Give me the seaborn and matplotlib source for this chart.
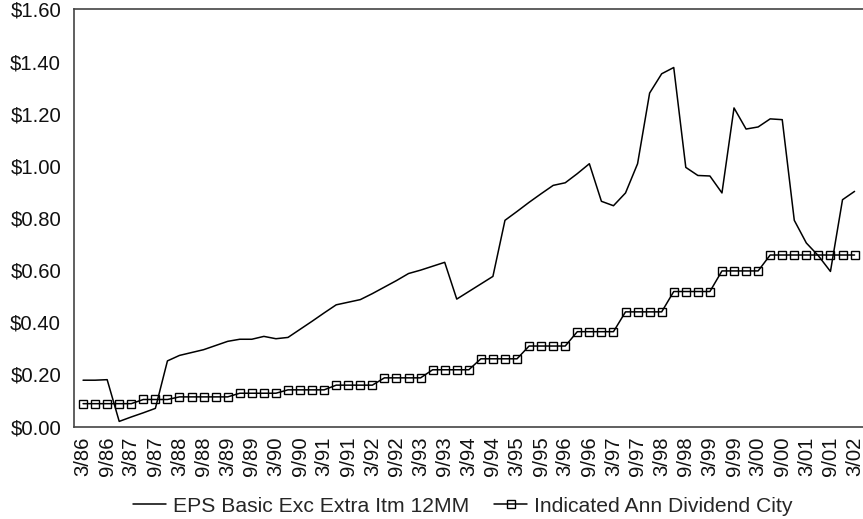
import numpy as np
import pandas as pd
import matplotlib
matplotlib.use("Agg")
import matplotlib.pyplot as plt
import seaborn as sns

sns.set_style("white")
plt.rcParams['font.family'] = ['Liberation Sans', 'DejaVu Sans']
plt.rcParams['font.size'] = 14.6

# quarterly values, 3/86 .. 3/02
eps = [0.178, 0.178, 0.180, 0.020, 0.037, 0.053, 0.070, 0.252, 0.273, 0.284,
       0.295, 0.311, 0.327, 0.335, 0.335, 0.346, 0.337, 0.342, 0.373, 0.404,
       0.436, 0.467, 0.477, 0.487, 0.510, 0.535, 0.560, 0.587, 0.600, 0.615,
       0.630, 0.489, 0.518, 0.547, 0.576, 0.791, 0.825, 0.860, 0.893, 0.925,
       0.935, 0.970, 1.008, 0.864, 0.847, 0.896, 1.008, 1.279, 1.353, 1.377,
       0.994, 0.963, 0.961, 0.896, 1.222, 1.141, 1.149, 1.180, 1.177, 0.791,
       0.704, 0.655, 0.595, 0.870, 0.902]

dividend = [0.088] * 5 + [0.104] * 3 + [0.114] * 5 + [0.128] * 4 + [0.141] * 4 + \
           [0.159] * 4 + [0.187] * 4 + [0.218] * 4 + [0.260] * 4 + [0.309] * 4 + \
           [0.364] * 4 + [0.440] * 4 + [0.518] * 4 + [0.597] * 4 + [0.658] * 8

tick_labels = ["3/86", "9/86", "3/87", "9/87", "3/88", "9/88", "3/89", "9/89",
               "3/90", "9/90", "3/91", "9/91", "3/92", "9/92", "3/93", "9/93",
               "3/94", "9/94", "3/95", "9/95", "3/96", "9/96", "3/97", "9/97",
               "3/98", "9/98", "3/99", "9/99", "3/00", "9/00", "3/01", "9/01",
               "3/02"]

df = pd.DataFrame({'q': np.arange(len(eps)), 'eps': eps, 'div': dividend})

fig = plt.figure(figsize=(8.63, 5.19), dpi=100)
ax = fig.add_axes([0.0852, 0.178, 0.9148, 0.804])

sns.lineplot(data=df, x='q', y='eps', ax=ax, color='black', linewidth=1.1,
             label='EPS Basic Exc Extra Itm 12MM')
sns.lineplot(data=df, x='q', y='div', ax=ax, color='black', linewidth=1.1,
             marker='s', markersize=6, markerfacecolor='none',
             markeredgecolor='black', markeredgewidth=1.0,
             label='Indicated Ann Dividend City')

ax.set_xlim(-0.79, 64.7)
ax.set_ylim(0, 1.6)
ax.set_yticks(np.arange(0, 1.61, 0.2))
ax.set_yticklabels([f"${v:.2f}" for v in np.arange(0, 1.61, 0.2)])
ax.set_xticks(np.arange(0, len(eps), 2))
ax.set_xticklabels(tick_labels, rotation=90)
ax.tick_params(axis='both', length=0, labelsize=14.6, colors='#111111')
ax.tick_params(axis='x', pad=7)
ax.tick_params(axis='y', pad=9)
ax.set_xlabel('')
ax.set_ylabel('')

for side in ['left', 'bottom', 'top']:
    ax.spines[side].set_color('#444444')
    ax.spines[side].set_linewidth(1.2)
ax.spines['right'].set_visible(False)

ax.get_legend().remove()
handles, labels = ax.get_legend_handles_labels()
fig.legend(handles, labels, loc='lower center', bbox_to_anchor=(0.536, -0.03),
           ncol=2, frameon=False, fontsize=15.2, handlelength=1.56,
           columnspacing=1.2, handletextpad=0.33, markerscale=0.85)

fig.savefig('out.png', dpi=100)
